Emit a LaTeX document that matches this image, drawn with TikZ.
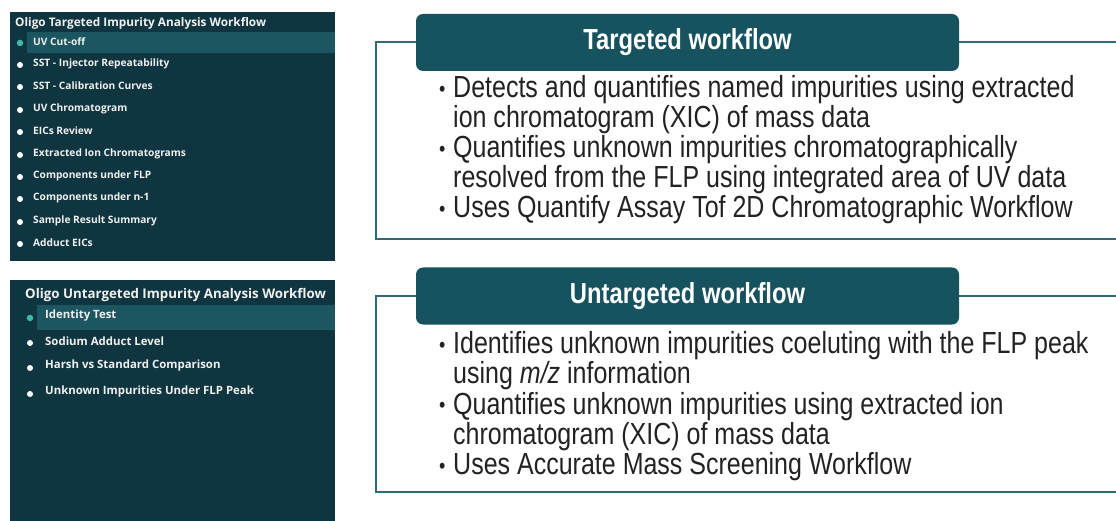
\documentclass[tikz,border=0pt]{standalone}
\usepackage{graphicx}
\usepackage{fontspec}
\setmainfont{Liberation Sans}
\newfontfamily\narrowfont[FakeStretch=0.82]{Liberation Sans}
\newfontfamily\panelfont{Open Sans}
\definecolor{panelbg}{HTML}{0F3640}
\definecolor{hlbar}{HTML}{1B5661}
\definecolor{hdrfill}{HTML}{17535E}
\definecolor{frameline}{HTML}{2F6D75}
\definecolor{dotteal}{HTML}{3FB8A8}
\definecolor{bodytext}{HTML}{222222}
\definecolor{paneltext}{HTML}{F0F0F0}
\newcommand{\bulletmark}{\makebox[14pt][l]{\raisebox{0.04em}{\scalebox{0.72}{\textbullet}}}}
\tikzset{
  panel/.style={fill=panelbg, draw=none, anchor=north west, inner sep=0pt},
  hlbox/.style={fill=hlbar, draw=none, anchor=north west, inner sep=0pt},
  ptitle/.style={anchor=west, inner sep=0pt, text=paneltext, font=\panelfont\bfseries\fontsize{11.8}{12}\selectfont},
  ptitleb/.style={anchor=west, inner sep=0pt, text=paneltext, font=\panelfont\bfseries\fontsize{13.3}{14}\selectfont},
  pitem/.style={anchor=west, inner sep=0pt, text=paneltext, font=\panelfont\bfseries\fontsize{10.2}{11}\selectfont},
  pitemb/.style={anchor=west, inner sep=0pt, text=paneltext, font=\panelfont\bfseries\fontsize{11.4}{12}\selectfont},
  wdot/.style={circle, fill=white, draw=none, inner sep=0pt, minimum size=6pt},
  tdot/.style={circle, fill=dotteal, draw=none, inner sep=0pt, minimum size=6.5pt},
  hdr/.style={fill=hdrfill, draw=none, rounded corners=7pt, minimum width=543pt, minimum height=57pt, inner sep=0pt, text=white, font=\narrowfont\bfseries\fontsize{29}{29}\selectfont},
  bline/.style={anchor=base west, inner sep=0pt, text=bodytext, font=\narrowfont\fontsize{30.5}{30.5}\selectfont},
  frame/.style={draw=frameline, line width=2pt}
}
\begin{document}
\begin{tikzpicture}[x=1pt,y=-1pt]
\useasboundingbox (0,0) rectangle (1116,521);
% ---------- top-left panel ----------
\node[panel, minimum width=325pt, minimum height=249pt] (p1) at (10,12) {};
\node[hlbox, minimum width=308pt, minimum height=20.5pt] (p1hl) at (27,32) {};
\node[ptitle] (p1t) at (15,23) {Oligo Targeted Impurity Analysis Workflow};
\node[tdot] (d1) at (20,43) {};
\node[pitem] (i1) at (33,42) {UV Cut-off};
\node[wdot] (d2) at (20,65) {};
\node[pitem] (i2) at (33,63.5) {SST - Injector Repeatability};
\node[wdot] (d3) at (20,87) {};
\node[pitem] (i3) at (33,86) {SST - Calibration Curves};
\node[wdot] (d4) at (20,110) {};
\node[pitem] (i4) at (33,108.5) {UV Chromatogram};
\node[wdot] (d5) at (20,132) {};
\node[pitem] (i5) at (33,131) {EICs Review};
\node[wdot] (d6) at (20,155) {};
\node[pitem] (i6) at (33,153.5) {Extracted Ion Chromatograms};
\node[wdot] (d7) at (20,177) {};
\node[pitem] (i7) at (33,176) {Components under FLP};
\node[wdot] (d8) at (20,199) {};
\node[pitem] (i8) at (33,198) {Components under n-1};
\node[wdot] (d9) at (20,222) {};
\node[pitem] (i9) at (33,221) {Sample Result Summary};
\node[wdot] (d10) at (20,244) {};
\node[pitem] (i10) at (33,243) {Adduct EICs};
% ---------- bottom-left panel ----------
\node[panel, minimum width=325pt, minimum height=241pt] (p2) at (10,280) {};
\node[hlbox, minimum width=298pt, minimum height=25pt] (p2hl) at (37,305) {};
\node[ptitleb] (p2t) at (25,295) {Oligo Untargeted Impurity Analysis Workflow};
\node[tdot] (e1) at (30,318) {};
\node[pitemb] (j1) at (45,316) {Identity Test};
\node[wdot] (e2) at (30,343) {};
\node[pitemb] (j2) at (45,341) {Sodium Adduct Level};
\node[wdot] (e3) at (30,368) {};
\node[pitemb] (j3) at (45,366) {Harsh vs Standard Comparison};
\node[wdot] (e4) at (30,394) {};
\node[pitemb] (j4) at (45,392) {Unknown Impurities Under FLP Peak};
% ---------- targeted workflow ----------
\node[hdr] (h1) at (687.5,42.5) {Targeted workflow};
\coordinate (f1bl) at (376,239);
\coordinate (f1br) at (1117,239);
\coordinate (f1tr) at (1117,42.5);
\draw[frame] (h1.west) -| (f1bl) -- (f1br);
\draw[frame] (h1.east) -- (f1tr);
\node[bline] (a1) at (439,97.5) {\bulletmark Detects and quantifies named impurities using extracted};
\node[bline] (a2) at (453,127.5) {ion chromatogram (XIC) of mass data};
\node[bline] (a3) at (439,157.5) {\bulletmark Quantifies unknown impurities chromatographically};
\node[bline] (a4) at (453,187.5) {resolved from the FLP using integrated area of UV data};
\node[bline] (a5) at (439,217.5) {\bulletmark Uses Quantify Assay Tof 2D Chromatographic Workflow};
% ---------- untargeted workflow ----------
\node[hdr] (h2) at (687.5,296) {Untargeted workflow};
\coordinate (f2bl) at (376,492);
\coordinate (f2br) at (1117,492);
\coordinate (f2tr) at (1117,296);
\draw[frame] (h2.west) -| (f2bl) -- (f2br);
\draw[frame] (h2.east) -- (f2tr);
\node[bline] (b1) at (439,353.5) {\bulletmark Identifies unknown impurities coeluting with the FLP peak};
\node[bline] (b2) at (453,383.5) {using \textit{m/z} information};
\node[bline] (b3) at (439,414) {\bulletmark Quantifies unknown impurities using extracted ion};
\node[bline] (b4) at (453,444) {chromatogram (XIC) of mass data};
\node[bline] (b5) at (439,474.5) {\bulletmark Uses Accurate Mass Screening Workflow};
\end{tikzpicture}
\end{document}
